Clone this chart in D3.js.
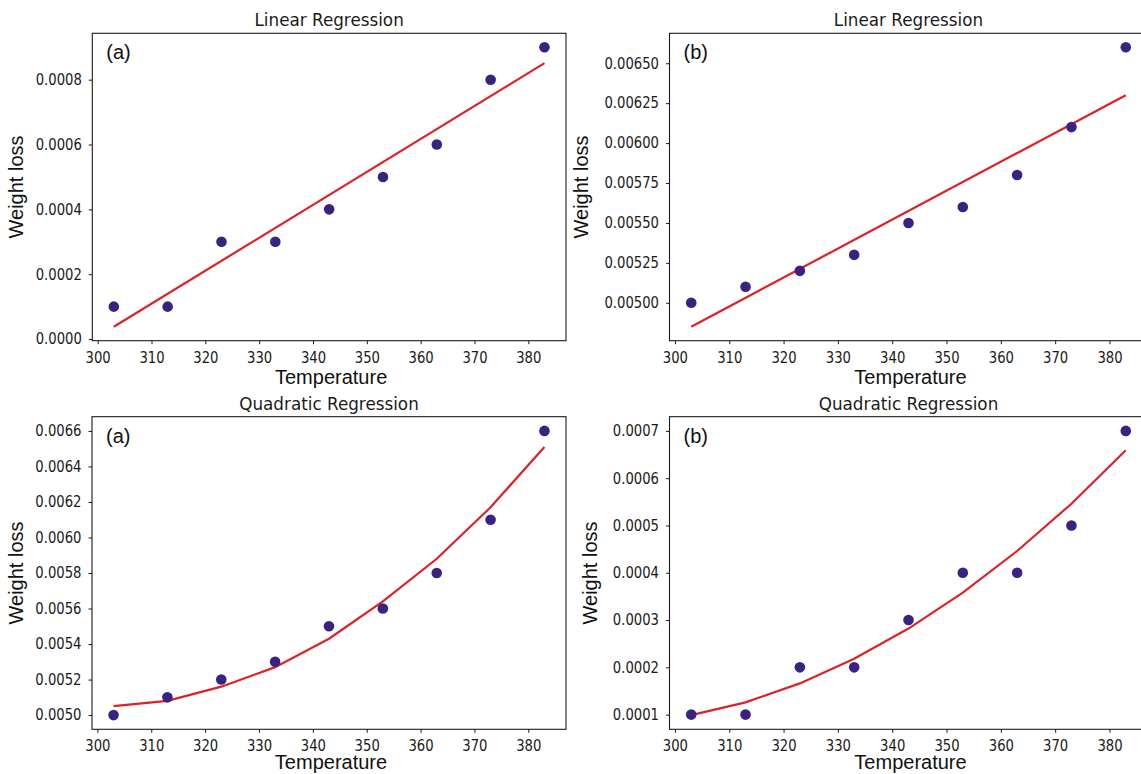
<!doctype html>
<html lang="en">
<head>
  <meta charset="utf-8">
  <title>Weight loss regression</title>
  <style>
  body { margin: 0; background: #fff; }
  svg { display: block; }
  .tick text { font-family: "DejaVu Sans", sans-serif; font-size: 15px; fill: #1a1a1a; }
  .tick line { stroke: #1a1a1a; }
  .label { font-family: "Liberation Sans", Arial, sans-serif; font-size: 20px; fill: #111; }
  .title { font-family: "DejaVu Sans", sans-serif; font-size: 16.8px; fill: #1a1a1a; }
  </style>
</head>
<body>
  <div id="chart"></div>
  <script src="https://d3js.org/d3.v7.min.js"></script>
  <script>
var temperature = [303, 313, 323, 333, 343, 353, 363, 373, 383];
var xTicks = [300, 310, 320, 330, 340, 350, 360, 370, 380];

// linear regression (a)
var linAObs = [0.0001, 0.0001, 0.0003, 0.0003, 0.0004, 0.0005, 0.0006, 0.0008, 0.0009];
var linFitX = [303, 383];
var linAFit = [0.000038, 0.000851];
var linATicks = [0, 0.0002, 0.0004, 0.0006, 0.0008];

// linear regression (b)
var linBObs = [0.0050, 0.0051, 0.0052, 0.0053, 0.0055, 0.0056, 0.0058, 0.0061, 0.0066];
var linBFit = [0.00485, 0.00630];
var linBTicks = [0.005, 0.00525, 0.0055, 0.00575, 0.006, 0.00625, 0.0065];

// quadratic regression (a)
var quadAObs = [0.0050, 0.0051, 0.0052, 0.0053, 0.0055, 0.0056, 0.0058, 0.0061, 0.0066];
var quadAFit = [0.00505, 0.00508, 0.00516, 0.00527, 0.00543, 0.00564, 0.00588, 0.00617, 0.00651];
var quadATicks = [0.005, 0.0052, 0.0054, 0.0056, 0.0058, 0.006, 0.0062, 0.0064, 0.0066];

// quadratic regression (b)
var quadBObs = [0.0001, 0.0001, 0.0002, 0.0002, 0.0003, 0.0004, 0.0004, 0.0005, 0.0007];
var quadBFit = [0.000099, 0.000126, 0.000166, 0.000218, 0.000282, 0.000358, 0.000446, 0.000546, 0.000659];
var quadBTicks = [0.0001, 0.0002, 0.0003, 0.0004, 0.0005, 0.0006, 0.0007];

var width = 1141, height = 774;
var squeeze = 0.88; // tick labels in the picture are a bit narrow

var svg = d3.select("#chart").append("svg")
    .attr("width", width)
    .attr("height", height);

function panel(p) {
  var g = svg.append("g");

  var xLo = d3.min(temperature), xHi = d3.max(temperature), xPad = (xHi - xLo) * 0.05;
  var x = d3.scaleLinear().domain([xLo - xPad, xHi + xPad]).range([p.left, p.right]);

  var all = p.obs.concat(p.fit);
  var lo = d3.min(all), hi = d3.max(all), pad = (hi - lo) * 0.05;
  var y = d3.scaleLinear().domain([lo - pad, hi + pad]).range([p.bottom, p.top]);

  var xa = g.append("g")
      .attr("transform", "translate(0," + p.bottom + ")")
      .call(d3.axisBottom(x).tickValues(xTicks).tickSize(3.5).tickPadding(8).tickFormat(d3.format("d")));
  xa.select(".domain").remove();
  xa.selectAll(".tick text").attr("transform", "scale(" + squeeze + ",1)");

  var ya = g.append("g")
      .attr("transform", "translate(" + p.left + ",0)")
      .call(d3.axisLeft(y).tickValues(p.ticks).tickSize(3.5).tickFormat(d3.format(p.fmt)));
  ya.select(".domain").remove();
  ya.selectAll(".tick text")
      .attr("x", -10.5 / squeeze)
      .attr("transform", "scale(" + squeeze + ",1)");

  g.append("rect")
      .attr("x", p.left)
      .attr("y", p.top)
      .attr("width", p.right - p.left)
      .attr("height", p.bottom - p.top)
      .attr("fill", "none")
      .attr("stroke", "#1a1a1a")
      .attr("stroke-width", 1.1);

  var line = d3.line()
      .x(function(d) { return x(d[0]); })
      .y(function(d) { return y(d[1]); });

  g.append("path")
      .datum(d3.zip(p.fitX, p.fit))
      .attr("d", line)
      .attr("fill", "none")
      .attr("stroke", "#dd2226")
      .attr("stroke-width", 2.2);

  g.selectAll("circle")
      .data(d3.zip(temperature, p.obs))
      .enter().append("circle")
      .attr("cx", function(d) { return x(d[0]); })
      .attr("cy", function(d) { return y(d[1]); })
      .attr("r", 5.3)
      .attr("fill", "#3a2283");

  g.append("text")
      .attr("class", "title")
      .attr("x", (p.left + p.right) / 2)
      .attr("y", p.top - 7)
      .attr("text-anchor", "middle")
      .text(p.title);

  g.append("text")
      .attr("class", "label")
      .attr("x", p.left + 14)
      .attr("y", p.top + 26)
      .text(p.tag);

  // the lower row's x label sits right at the bottom edge
  g.append("text")
      .attr("class", "label")
      .attr("x", (p.left + p.right) / 2 + 2)
      .attr("y", Math.min(p.bottom + 43.3, height - 5))
      .attr("text-anchor", "middle")
      .text("Temperature");

  g.append("text")
      .attr("class", "label")
      .attr("transform", "translate(" + p.ylabX + "," + (p.top + p.bottom) / 2 + ") rotate(-90)")
      .attr("text-anchor", "middle")
      .text("Weight loss");
}

panel({ title: "Linear Regression", tag: "(a)", obs: linAObs, fit: linAFit, fitX: linFitX,
        ticks: linATicks, fmt: ".4f", left: 92.3, right: 566, top: 33.3, bottom: 340.7, ylabX: 23 });
panel({ title: "Linear Regression", tag: "(b)", obs: linBObs, fit: linBFit, fitX: linFitX,
        ticks: linBTicks, fmt: ".5f", left: 669.5, right: 1147.5, top: 33.3, bottom: 340.7, ylabX: 588 });
panel({ title: "Quadratic Regression", tag: "(a)", obs: quadAObs, fit: quadAFit, fitX: temperature,
        ticks: quadATicks, fmt: ".4f", left: 92, right: 566, top: 416.7, bottom: 729.3, ylabX: 23 });
panel({ title: "Quadratic Regression", tag: "(b)", obs: quadBObs, fit: quadBFit, fitX: temperature,
        ticks: quadBTicks, fmt: ".4f", left: 669.5, right: 1147.5, top: 416.7, bottom: 729.3, ylabX: 597 });
  </script>
</body>
</html>
